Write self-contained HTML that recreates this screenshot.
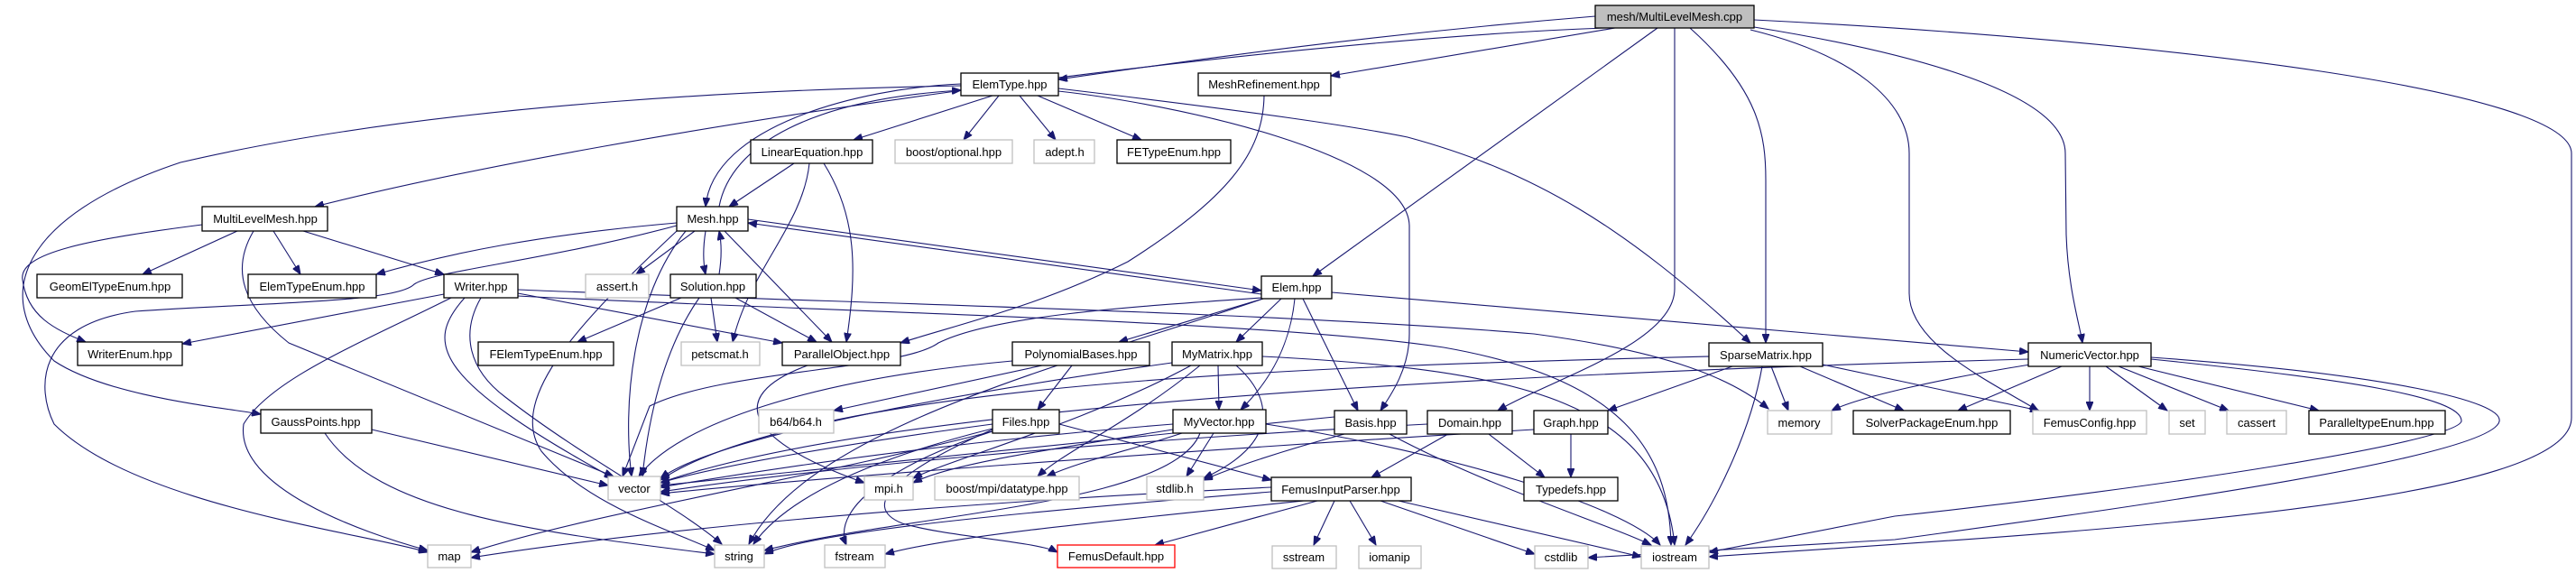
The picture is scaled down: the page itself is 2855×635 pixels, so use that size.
<!DOCTYPE html>
<html><head><meta charset="utf-8"><style>
html,body{margin:0;padding:0;background:#fff;}
svg{display:block;}
text{font-family:"Liberation Sans",Arial,sans-serif;font-size:13px;text-anchor:middle;fill:#000;}
.e{fill:none;stroke:#191970;stroke-width:1.1;marker-end:url(#a);}
.n{fill:#fff;stroke:#000;stroke-width:1.3;}
.g{fill:#fff;stroke:#bfbfbf;stroke-width:1.3;}
</style></head><body>
<svg width="2855" height="635" viewBox="0 0 2855 635" xmlns="http://www.w3.org/2000/svg">
<defs><marker id="a" markerUnits="userSpaceOnUse" markerWidth="11" markerHeight="8" refX="10" refY="4" orient="auto"><path d="M0,0 L10,4 L0,8 z" fill="#191970" stroke="#191970"/></marker></defs>
<g>
<path class="e" d="M1768,18 C1500,40 1300,70 1173,88"/>
<path class="e" d="M1790,31 C1650,55 1550,72 1475,84"/>
<path class="e" d="M1778,31 C1400,45 700,140 349,229"/>
<path class="e" d="M1065,95 C900,98 500,110 200,180 C20,240 -10,330 60,400 C120,440 250,452 289,459"/>
<path class="e" d="M1837,31 L1455,306"/>
<path class="e" d="M1856,31 L1856,320 C1856,380 1720,420 1660,455"/>
<path class="e" d="M1873,31 C1950,100 1957,150 1957,200 L1957,380"/>
<path class="e" d="M1944,30 C2100,55 2289,100 2289,170 L2290,260 C2292,320 2305,360 2308,380"/>
<path class="e" d="M1940,33 C2050,60 2116,110 2116,170 L2116,325 C2116,380 2200,420 2259,455"/>
<path class="e" d="M1944,22 C2400,45 2850,100 2850,170 L2850,463 C2850,560 2300,590 1894,617"/>
<path class="e" d="M2384,398 C2600,420 2730,440 2728,467 C2720,490 2400,540 2100,572 L1894,612"/>
<path class="e" d="M2384,396 C2650,415 2775,445 2770,467 C2760,510 2300,570 2100,598 L1760,618"/>
<path class="e" d="M1100,106 L946,155"/>
<path class="e" d="M1107,106 L1068,155"/>
<path class="e" d="M1130,106 L1170,155"/>
<path class="e" d="M1150,106 L1265,155"/>
<path class="e" d="M1065,93 C950,98 790,140 782,229"/>
<path class="e" d="M797,229 C810,160 900,110 1065,100"/>
<path class="e" d="M1173,101 C1300,115 1560,170 1562,250 L1562,370 C1562,410 1540,440 1530,455"/>
<path class="e" d="M1173,98 C1400,125 1500,140 1560,152 C1700,190 1800,250 1940,380"/>
<path class="e" d="M1401,106 C1400,170 1360,220 1250,290 C1150,340 1060,360 998,380"/>
<path class="e" d="M880,181 L808,229"/>
<path class="e" d="M897,181 C890,250 830,300 812,379"/>
<path class="e" d="M913,181 C950,240 950,300 938,379"/>
<path class="e" d="M829,243 L1398,322"/>
<path class="e" d="M1398,326 L829,247"/>
<path class="e" d="M770,256 L705,304"/>
<path class="e" d="M782,256 C779,275 779,290 782,304"/>
<path class="e" d="M797,304 C800,285 800,270 797,256"/>
<path class="e" d="M803,256 L922,379"/>
<path class="e" d="M750,247 C600,260 500,280 417,304"/>
<path class="e" d="M750,250 C600,290 480,300 459,315 C440,335 300,335 150,345 C40,360 40,430 60,470 C150,560 400,590 474,612"/>
<path class="e" d="M760,256 C700,330 690,450 700,528"/>
<path class="e" d="M263,256 L158,304"/>
<path class="e" d="M303,256 L333,304"/>
<path class="e" d="M336,256 L492,304"/>
<path class="e" d="M281,256 C255,300 270,340 320,380 L680,528"/>
<path class="e" d="M224,249 C100,265 20,280 25,310 C30,350 60,365 95,379"/>
<path class="e" d="M492,326 L202,381"/>
<path class="e" d="M500,330 C400,380 300,420 270,470 C260,540 400,590 474,610"/>
<path class="e" d="M515,330 C470,380 480,420 680,530"/>
<path class="e" d="M533,330 C510,370 520,410 560,440 C650,510 750,560 800,603"/>
<path class="e" d="M574,325 L867,380"/>
<path class="e" d="M574,321 C900,335 1400,345 1700,370 C1850,390 1920,420 1960,453"/>
<path class="e" d="M574,328 C900,345 1400,355 1600,385 C1800,420 1850,500 1852,604"/>
<path class="e" d="M788,330 L795,379"/>
<path class="e" d="M815,330 L905,379"/>
<path class="e" d="M755,330 L640,379"/>
<path class="e" d="M775,330 C740,380 720,450 712,528"/>
<path class="e" d="M1398,330 C1250,340 1100,350 1040,380 C1000,410 800,410 720,450 L690,528"/>
<path class="e" d="M1400,331 L1240,379"/>
<path class="e" d="M1420,331 L1370,379"/>
<path class="e" d="M1435,331 C1430,380 1410,420 1375,454"/>
<path class="e" d="M1444,331 L1505,455"/>
<path class="e" d="M1476,324 L2248,390"/>
<path class="e" d="M1400,331 C1200,400 900,470 830,603"/>
<path class="e" d="M1155,405 L924,455"/>
<path class="e" d="M1188,405 L1150,454"/>
<path class="e" d="M1122,400 C900,420 750,470 708,528"/>
<path class="e" d="M1350,405 L1351,454"/>
<path class="e" d="M1330,405 C1250,470 1180,500 1150,528"/>
<path class="e" d="M1320,405 C1200,470 1050,510 1012,530"/>
<path class="e" d="M1370,405 C1410,440 1420,490 1334,530"/>
<path class="e" d="M1299,402 C1100,430 800,480 732,530"/>
<path class="e" d="M1399,395 C1700,410 1840,450 1856,604"/>
<path class="e" d="M895,405 C800,440 830,490 958,535"/>
<path class="e" d="M1100,475 C1000,500 880,540 835,603"/>
<path class="e" d="M1100,478 C1000,510 920,560 938,604"/>
<path class="e" d="M1100,476 C1000,520 950,560 1000,580 C1050,595 1150,600 1172,612"/>
<path class="e" d="M1174,470 L1409,532"/>
<path class="e" d="M1100,470 C950,490 800,515 732,535"/>
<path class="e" d="M1100,478 C900,530 650,570 522,612"/>
<path class="e" d="M1345,480 L1315,528"/>
<path class="e" d="M1310,480 C1250,500 1200,510 1160,528"/>
<path class="e" d="M1300,470 C1050,490 850,520 732,540"/>
<path class="e" d="M1330,480 C1300,560 1000,570 847,610"/>
<path class="e" d="M1300,476 C1150,500 1050,515 1012,535"/>
<path class="e" d="M1403,470 C1600,500 1800,560 1840,604"/>
<path class="e" d="M1479,462 C1200,490 900,520 732,538"/>
<path class="e" d="M1490,481 C1420,500 1360,520 1334,532"/>
<path class="e" d="M1540,481 C1650,540 1780,580 1830,604"/>
<path class="e" d="M1605,481 L1520,529"/>
<path class="e" d="M1650,481 L1712,529"/>
<path class="e" d="M1582,470 C1200,490 900,520 732,545"/>
<path class="e" d="M1741,481 L1741,529"/>
<path class="e" d="M1700,476 C1300,500 900,530 732,547"/>
<path class="e" d="M1920,406 L1782,455"/>
<path class="e" d="M1963,406 L1982,455"/>
<path class="e" d="M1995,406 L2110,455"/>
<path class="e" d="M2020,404 L2260,455"/>
<path class="e" d="M1953,406 C1940,480 1900,560 1868,604"/>
<path class="e" d="M1894,395 C1500,405 900,420 732,532"/>
<path class="e" d="M2285,406 L2170,455"/>
<path class="e" d="M2316,406 L2316,455"/>
<path class="e" d="M2334,406 L2402,455"/>
<path class="e" d="M2348,406 L2470,455"/>
<path class="e" d="M2370,406 L2570,455"/>
<path class="e" d="M2250,404 C2150,420 2060,440 2030,455"/>
<path class="e" d="M2248,398 C1800,410 1000,440 732,535"/>
<path class="e" d="M1409,540 C1000,560 700,590 522,618"/>
<path class="e" d="M1409,545 C1100,570 900,590 847,614"/>
<path class="e" d="M1445,555 C1200,580 1050,595 981,614"/>
<path class="e" d="M1460,555 L1280,604"/>
<path class="e" d="M1479,555 L1456,604"/>
<path class="e" d="M1496,555 L1525,604"/>
<path class="e" d="M1530,555 L1701,614"/>
<path class="e" d="M1550,555 L1819,617"/>
<path class="e" d="M412,476 L674,538"/>
<path class="e" d="M360,480 C420,570 600,590 792,614"/>
<path class="e" d="M750,256 C650,350 560,440 600,500 C650,560 750,590 792,610"/>
</g>
<g>
<rect x="1768" y="6" width="176" height="25" fill="#bfbfbf" stroke="#000" stroke-width="1.3"/><text x="1856" y="23">mesh/MultiLevelMesh.cpp</text>
<rect class="n" x="1065" y="81" width="108" height="25"/><text x="1119" y="98">ElemType.hpp</text>
<rect class="n" x="1328" y="81" width="147" height="25"/><text x="1401" y="98">MeshRefinement.hpp</text>
<rect class="n" x="832" y="155" width="135" height="26"/><text x="900" y="173">LinearEquation.hpp</text>
<rect class="g" x="992" y="155" width="130" height="26"/><text x="1057" y="173">boost/optional.hpp</text>
<rect class="g" x="1146" y="155" width="67" height="26"/><text x="1180" y="173">adept.h</text>
<rect class="n" x="1238" y="155" width="126" height="26"/><text x="1301" y="173">FETypeEnum.hpp</text>
<rect class="n" x="750" y="229" width="79" height="27"/><text x="790" y="247">Mesh.hpp</text>
<rect class="n" x="224" y="229" width="139" height="27"/><text x="294" y="247">MultiLevelMesh.hpp</text>
<rect class="n" x="41" y="304" width="161" height="26"/><text x="122" y="322">GeomElTypeEnum.hpp</text>
<rect class="n" x="275" y="304" width="142" height="26"/><text x="346" y="322">ElemTypeEnum.hpp</text>
<rect class="n" x="492" y="304" width="82" height="26"/><text x="533" y="322">Writer.hpp</text>
<rect class="g" x="649" y="304" width="70" height="26"/><text x="684" y="322">assert.h</text>
<rect class="n" x="743" y="304" width="95" height="26"/><text x="790" y="322">Solution.hpp</text>
<rect class="n" x="1398" y="306" width="78" height="25"/><text x="1437" y="323">Elem.hpp</text>
<rect class="n" x="86" y="379" width="116" height="26"/><text x="144" y="397">WriterEnum.hpp</text>
<rect class="n" x="530" y="379" width="150" height="26"/><text x="605" y="397">FElemTypeEnum.hpp</text>
<rect class="g" x="755" y="379" width="87" height="26"/><text x="798" y="397">petscmat.h</text>
<rect class="n" x="867" y="379" width="131" height="26"/><text x="933" y="397">ParallelObject.hpp</text>
<rect class="n" x="1122" y="379" width="152" height="26"/><text x="1198" y="397">PolynomialBases.hpp</text>
<rect class="n" x="1299" y="379" width="100" height="26"/><text x="1349" y="397">MyMatrix.hpp</text>
<rect class="n" x="1894" y="380" width="126" height="26"/><text x="1957" y="398">SparseMatrix.hpp</text>
<rect class="n" x="2248" y="380" width="136" height="26"/><text x="2316" y="398">NumericVector.hpp</text>
<rect class="n" x="289" y="454" width="123" height="26"/><text x="350" y="472">GaussPoints.hpp</text>
<rect class="g" x="841" y="454" width="83" height="26"/><text x="882" y="472">b64/b64.h</text>
<rect class="n" x="1100" y="454" width="74" height="26"/><text x="1137" y="472">Files.hpp</text>
<rect class="n" x="1300" y="454" width="103" height="26"/><text x="1351" y="472">MyVector.hpp</text>
<rect class="n" x="1479" y="455" width="80" height="26"/><text x="1519" y="473">Basis.hpp</text>
<rect class="n" x="1582" y="455" width="94" height="26"/><text x="1629" y="473">Domain.hpp</text>
<rect class="n" x="1700" y="455" width="82" height="26"/><text x="1741" y="473">Graph.hpp</text>
<rect class="g" x="1959" y="455" width="71" height="26"/><text x="1994" y="473">memory</text>
<rect class="n" x="2054" y="455" width="174" height="26"/><text x="2141" y="473">SolverPackageEnum.hpp</text>
<rect class="g" x="2253" y="455" width="126" height="26"/><text x="2316" y="473">FemusConfig.hpp</text>
<rect class="g" x="2404" y="455" width="40" height="26"/><text x="2424" y="473">set</text>
<rect class="g" x="2468" y="455" width="66" height="26"/><text x="2501" y="473">cassert</text>
<rect class="n" x="2559" y="455" width="151" height="26"/><text x="2634" y="473">ParalleltypeEnum.hpp</text>
<rect class="g" x="674" y="528" width="58" height="26"/><text x="703" y="546">vector</text>
<rect class="g" x="958" y="528" width="54" height="26"/><text x="985" y="546">mpi.h</text>
<rect class="g" x="1036" y="528" width="160" height="26"/><text x="1116" y="546">boost/mpi/datatype.hpp</text>
<rect class="g" x="1271" y="528" width="63" height="26"/><text x="1302" y="546">stdlib.h</text>
<rect class="n" x="1409" y="529" width="155" height="26"/><text x="1486" y="547">FemusInputParser.hpp</text>
<rect class="n" x="1689" y="529" width="104" height="26"/><text x="1741" y="547">Typedefs.hpp</text>
<rect class="g" x="474" y="604" width="48" height="25"/><text x="498" y="621">map</text>
<rect class="g" x="792" y="604" width="55" height="25"/><text x="819" y="621">string</text>
<rect class="g" x="914" y="604" width="67" height="25"/><text x="947" y="621">fstream</text>
<rect x="1172" y="604" width="130" height="25" fill="#fff" stroke="#ff0000" stroke-width="1.3"/><text x="1237" y="621">FemusDefault.hpp</text>
<rect class="g" x="1410" y="605" width="71" height="25"/><text x="1445" y="622">sstream</text>
<rect class="g" x="1506" y="605" width="69" height="25"/><text x="1540" y="622">iomanip</text>
<rect class="g" x="1701" y="605" width="59" height="25"/><text x="1730" y="622">cstdlib</text>
<rect class="g" x="1819" y="605" width="75" height="25"/><text x="1856" y="622">iostream</text>
</g>
</svg>
</body></html>
